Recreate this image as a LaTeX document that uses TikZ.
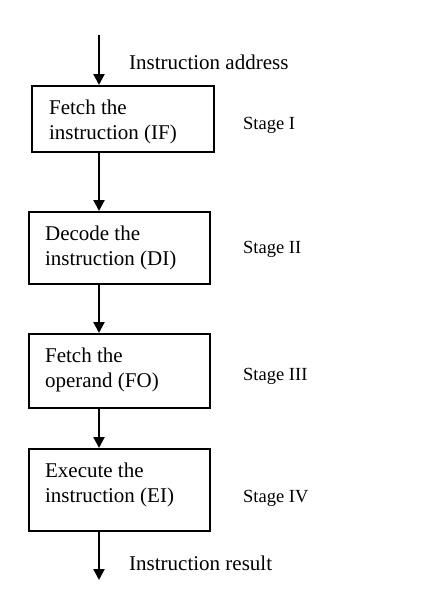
\documentclass[tikz,border=0pt]{standalone}
\usepackage{fontspec}
\setmainfont{Liberation Serif}
\usetikzlibrary{arrows.meta}
\tikzset{
  box/.style={draw, line width=2.2pt, anchor=north west, inner ysep=0pt,
    font=\fontsize{21}{25}\selectfont},
  lbl/.style={anchor=base west, inner sep=0pt, font=\fontsize{21}{25}\selectfont},
  stagelbl/.style={anchor=base west, inner sep=0pt, font=\fontsize{18.5}{22}\selectfont},
  flow/.style={line width=2.2pt, -{Triangle[width=11pt,length=11pt]}}
}
\begin{document}
\begin{tikzpicture}[x=1pt,y=-1pt]
\useasboundingbox (0,0) rectangle (443,594);
\coordinate (ax) at (99,0);
\coordinate (top) at (99,35);
\coordinate (bot) at (99,580);
\node[box, inner xsep=17pt, text height=28pt, text depth=38pt] (b1) at (31,85)
  {\parbox[t]{148pt}{\raggedright Fetch the\\instruction (IF)}};
\node[box, inner xsep=16pt, text height=28pt, text depth=44pt] (b2) at (28,211)
  {\parbox[t]{149pt}{\raggedright Decode the\\instruction (DI)}};
\node[box, inner xsep=16pt, text height=28pt, text depth=46pt] (b3) at (28,333)
  {\parbox[t]{149pt}{\raggedright Fetch the\\operand (FO)}};
\node[box, inner xsep=16pt, text height=28pt, text depth=54pt] (b4) at (28,448)
  {\parbox[t]{149pt}{\raggedright Execute the\\instruction (EI)}};
\node[lbl] (addr) at (129,70) {Instruction address};
\node[lbl] (res) at (129,570) {Instruction result};
\node[stagelbl] (s1) at (243,129) {Stage I};
\node[stagelbl] (s2) at (243,253) {Stage II};
\node[stagelbl] (s3) at (243,380) {Stage III};
\node[stagelbl] (s4) at (243,502) {Stage IV};
\draw[flow] (top) -- (b1.north -| ax);
\draw[flow] (b1.south -| ax) -- (b2.north -| ax);
\draw[flow] (b2.south -| ax) -- (b3.north -| ax);
\draw[flow] (b3.south -| ax) -- (b4.north -| ax);
\draw[flow] (b4.south -| ax) -- (bot);
\end{tikzpicture}
\end{document}
